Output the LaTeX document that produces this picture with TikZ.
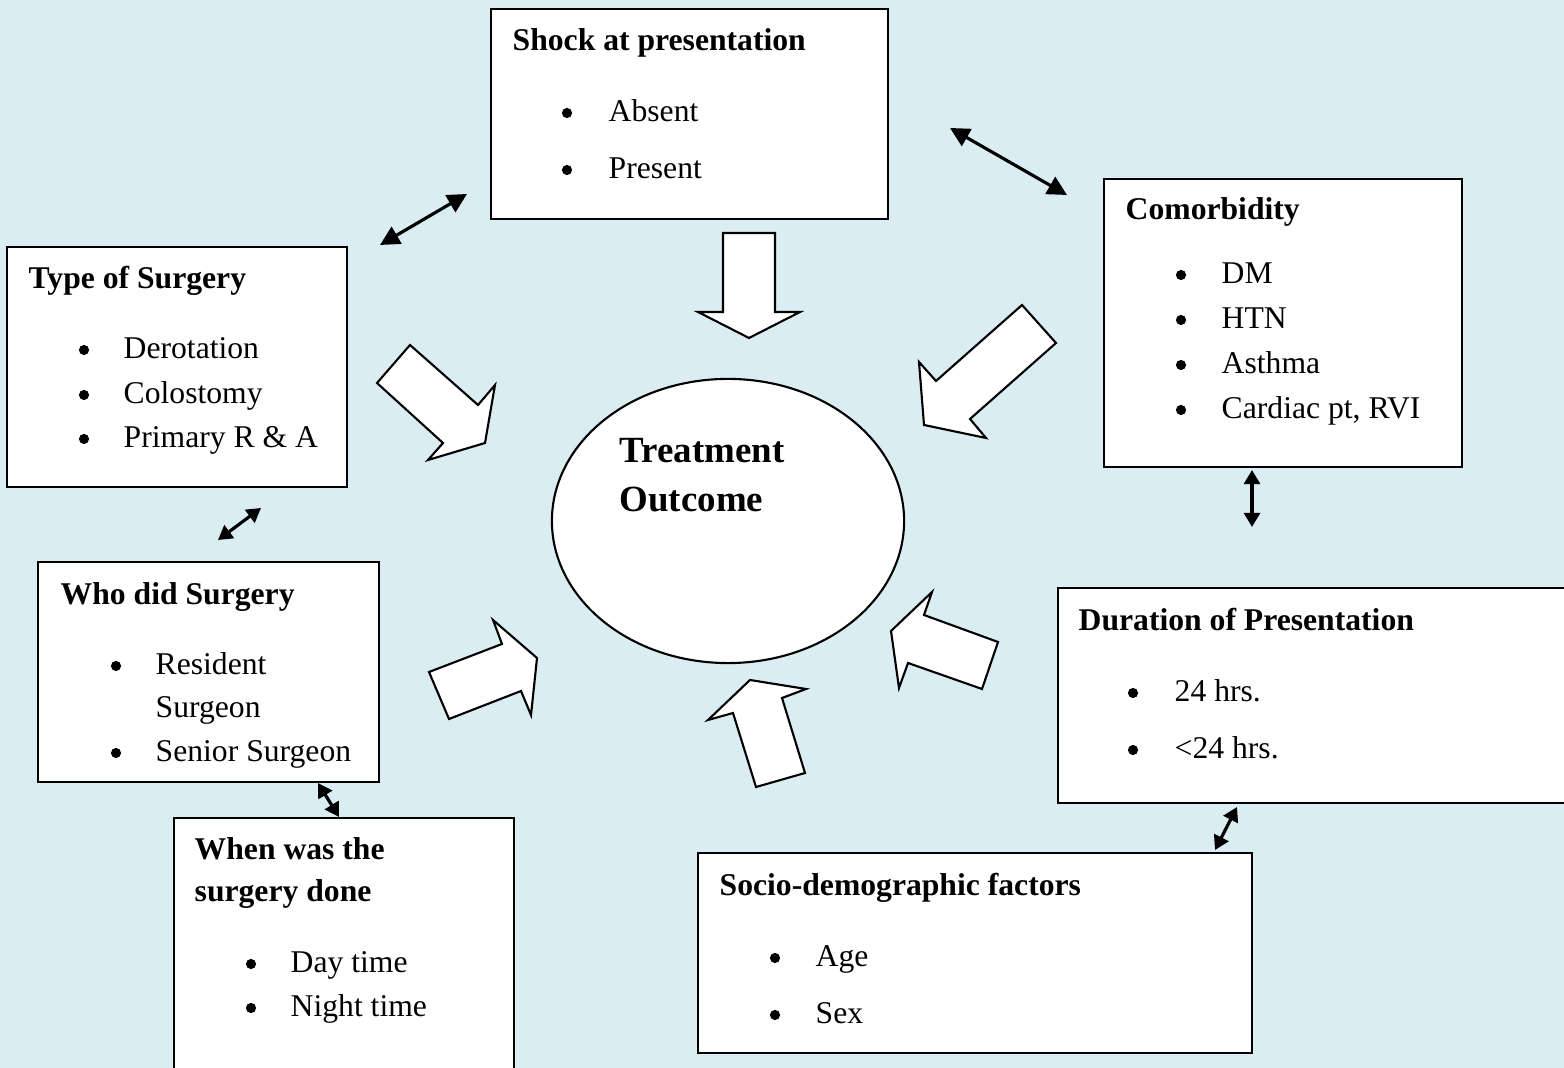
\documentclass[tikz,border=0pt]{standalone}
\usepackage{fontspec}
\setmainfont{Liberation Serif}
\usetikzlibrary{positioning,arrows.meta,shapes.geometric}
\definecolor{bgblue}{RGB}{218,237,243}

\begin{document}
\begin{tikzpicture}[x=0.01cm, y=-0.01cm,
  box/.style={draw, fill=white, line width=0.6pt, inner sep=0pt},
  head/.style={font=\fontsize{9}{11}\selectfont\bfseries, anchor=base west, inner sep=0pt},
  item/.style={font=\fontsize{9}{11}\selectfont, anchor=base west, inner sep=0pt},
  dot/.style={circle, fill, inner sep=0pt, minimum size=2.9pt},
  link/.style={{Triangle[length=5.5pt,width=5.5pt]}-{Triangle[length=5.5pt,width=5.5pt]}, line width=0.9pt},
  shortlink/.style={{Triangle[length=4pt,width=4.5pt]}-{Triangle[length=4pt,width=4.5pt]}, line width=0.9pt},
  fat/.style={draw, fill=white, line width=0.6pt, line join=miter}]
\useasboundingbox (0,0) rectangle (1564,1068);
\fill[bgblue] (0,0) rectangle (1564,1068);

% boxes
\node[box, minimum width=3.97cm, minimum height=2.10cm] (shock) at (689.5,114) {};
\node[box, minimum width=3.58cm, minimum height=2.88cm] (comorb) at (1283,323) {};
\node[box, minimum width=3.40cm, minimum height=2.40cm] (surgtype) at (177,367) {};
\node[box, minimum width=3.41cm, minimum height=2.20cm] (whodid) at (208.5,672) {};
\node[box, minimum width=3.40cm, minimum height=2.62cm] (whendone) at (344,949) {};
\node[box, minimum width=5.17cm, minimum height=2.15cm] (duration) at (1316.5,695.5) {};
\node[box, minimum width=5.54cm, minimum height=2.00cm] (socio) at (975,953) {};
\node[box, ellipse, minimum width=3.52cm, minimum height=2.84cm] (outcome) at (728,521) {};

% headings
\node[head] (shock-t) at (512,51) {Shock at presentation};
\node[head] (comorb-t) at (1125,220) {Comorbidity};
\node[head] (surgtype-t) at (28,289) {Type of Surgery};
\node[head] (whodid-t) at (60,605) {Who did Surgery};
\node[head] (whendone-t1) at (194,860) {When was the};
\node[head] (whendone-t2) at (194,902) {surgery done};
\node[head] (duration-t) at (1078,631) {Duration of Presentation};
\node[head] (socio-t) at (719,896) {Socio-demographic factors};
\node[font=\fontsize{10.5}{13}\selectfont\bfseries, anchor=base west, inner sep=0pt] (outcome-t1) at (619,463) {Treatment};
\node[font=\fontsize{10.5}{13}\selectfont\bfseries, anchor=base west, inner sep=0pt] (outcome-t2) at (619,512) {Outcome};

% bullet lists
\foreach \txt/\yy [count=\i] in {Absent/111, Present/168} {
  \node[dot] (shock-d\i) at (567,\yy+2) {};
  \node[item] (shock-i\i) at (608,\yy+11) {\txt};
}
\foreach \txt/\yy [count=\i] in {DM/273, HTN/318, Asthma/363, {Cardiac pt, RVI}/408} {
  \node[dot] (comorb-d\i) at (1181,\yy+2) {};
  \node[item] (comorb-i\i) at (1221,\yy+11) {\txt};
}
\foreach \txt/\yy [count=\i] in {Derotation/348, Colostomy/393, {Primary R \& A}/437} {
  \node[dot] (surgtype-d\i) at (84,\yy+2) {};
  \node[item] (surgtype-i\i) at (123,\yy+11) {\txt};
}
\foreach \txt/\yy [count=\i] in {Resident/664, Senior Surgeon/751} {
  \node[dot] (whodid-d\i) at (116,\yy+2) {};
  \node[item] (whodid-i\i) at (155,\yy+11) {\txt};
}
\node[item] (whodid-i1b) at (155,718) {Surgeon};
\foreach \txt/\yy [count=\i] in {Day time/962, Night time/1006} {
  \node[dot] (whendone-d\i) at (251,\yy+2) {};
  \node[item] (whendone-i\i) at (290,\yy+11) {\txt};
}
\foreach \txt/\yy [count=\i] in {24 hrs./691, <24 hrs./748} {
  \node[dot] (duration-d\i) at (1133,\yy+2) {};
  \node[item] (duration-i\i) at (1174,\yy+11) {\txt};
}
\foreach \txt/\yy [count=\i] in {Age/956, Sex/1013} {
  \node[dot] (socio-d\i) at (775,\yy+2) {};
  \node[item] (socio-i\i) at (815,\yy+11) {\txt};
}

% block arrows towards the outcome
\draw[fat] (723,233) -- (775,233) -- (775,312) -- (800,312) -- (749,338) -- (698,312) -- (723,312) -- cycle;
\draw[fat] (410,345) -- (377,383) -- (443,443) -- (428,460) -- (485,443) -- (495,385) -- (478,405) -- cycle;
\draw[fat] (1022,305) -- (1056,343) -- (970,419) -- (986,438) -- (924,425) -- (919,362) -- (936,381) -- cycle;
\draw[fat] (429,672) -- (502,644) -- (493,620) -- (537,658) -- (531,715) -- (521,691) -- (449,719) -- cycle;
\draw[fat] (756,787) -- (733,713) -- (708,720) -- (750,680) -- (806,689) -- (782,698) -- (805,773) -- cycle;
\draw[fat] (998,642) -- (982,689) -- (908,663) -- (899,688) -- (891,631) -- (932,592) -- (924,615) -- cycle;

% two-way links
\coordinate (l1a) at (380,245); \coordinate (l1b) at (467,194);
\coordinate (l2a) at (950,128); \coordinate (l2b) at (1067,195);
\coordinate (l3a) at (218,540); \coordinate (l3b) at (261,508);
\coordinate (l4a) at (1252,470); \coordinate (l4b) at (1252,527);
\coordinate (l5a) at (318,783); \coordinate (l5b) at (339,817);
\coordinate (l6a) at (1237,807); \coordinate (l6b) at (1215,850);
\draw[link] (l1a) -- (l1b);
\draw[link] (l2a) -- (l2b);
\draw[shortlink] (l3a) -- (l3b);
\draw[shortlink] (l4a) -- (l4b);
\draw[shortlink] (l5a) -- (l5b);
\draw[shortlink] (l6a) -- (l6b);
\end{tikzpicture}
\end{document}
